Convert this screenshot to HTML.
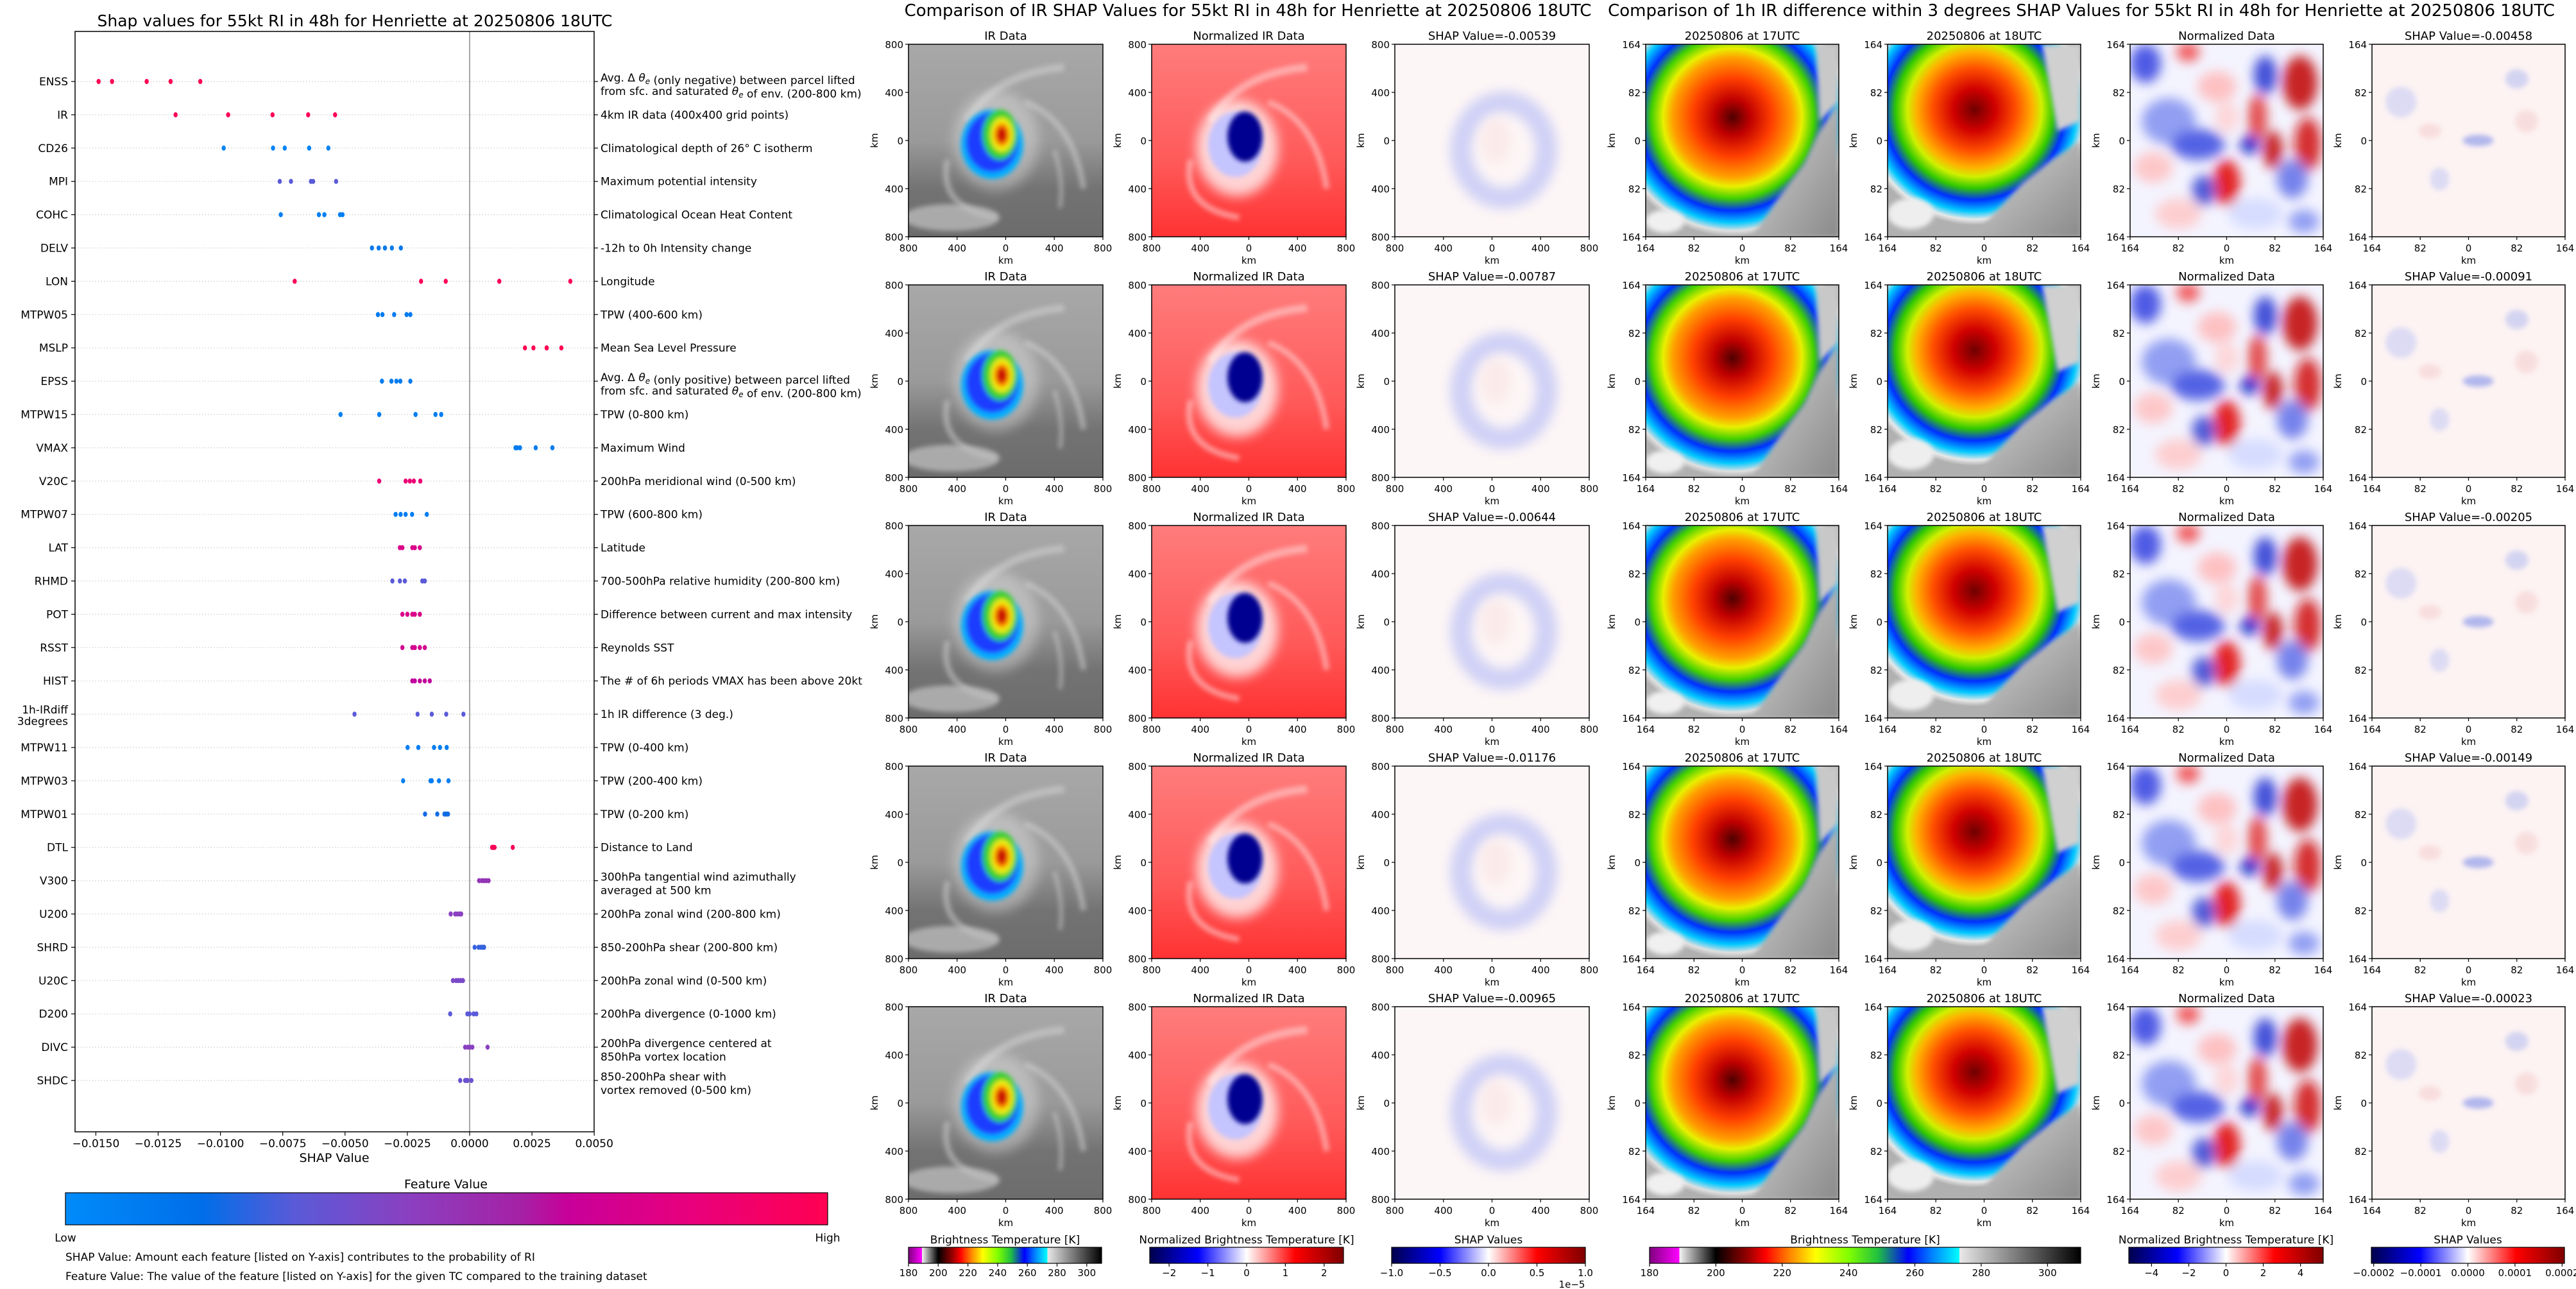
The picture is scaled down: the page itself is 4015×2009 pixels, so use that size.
<!DOCTYPE html>
<html><head><meta charset="utf-8">
<style>
html,body{margin:0;padding:0;background:#fff;}
svg{display:block;font-family:"DejaVu Sans","Liberation Sans",sans-serif;}
</style></head>
<body>
<svg id="root" xmlns="http://www.w3.org/2000/svg" width="4015" height="2009" viewBox="0 0 4015 2009">
<defs>
  <linearGradient id="shapcm" x1="0" x2="1" y1="0" y2="0">
    <stop offset="0" stop-color="#008bfa"/><stop offset="0.18" stop-color="#006ee8"/>
    <stop offset="0.3" stop-color="#5a5ad8"/><stop offset="0.45" stop-color="#8a40c0"/>
    <stop offset="0.6" stop-color="#a620a4"/><stop offset="0.66" stop-color="#c8009a"/>
    <stop offset="0.82" stop-color="#e8007c"/><stop offset="1" stop-color="#ff0052"/>
  </linearGradient>
  <linearGradient id="btcm" x1="0" x2="1" y1="0" y2="0">
    <stop offset="0" stop-color="#800080"/><stop offset="0.069" stop-color="#ff00ff"/>
    <stop offset="0.0691" stop-color="#f4f4f4"/><stop offset="0.154" stop-color="#000000"/>
    <stop offset="0.231" stop-color="#a00000"/><stop offset="0.269" stop-color="#ff0000"/>
    <stop offset="0.323" stop-color="#ff8000"/><stop offset="0.385" stop-color="#ffff00"/>
    <stop offset="0.462" stop-color="#80ff00"/><stop offset="0.53" stop-color="#20c040"/>
    <stop offset="0.6" stop-color="#0000ff"/><stop offset="0.654" stop-color="#0080ff"/>
    <stop offset="0.719" stop-color="#00ffff"/><stop offset="0.7191" stop-color="#e8e8e8"/>
    <stop offset="1" stop-color="#000000"/>
  </linearGradient>
  <linearGradient id="seis" x1="0" x2="1" y1="0" y2="0">
    <stop offset="0" stop-color="#00004c"/><stop offset="0.25" stop-color="#0000ff"/>
    <stop offset="0.5" stop-color="#ffffff"/><stop offset="0.75" stop-color="#ff0000"/>
    <stop offset="1" stop-color="#7f0000"/>
  </linearGradient>
  <linearGradient id="irbg" x1="0" x2="0" y1="0" y2="1">
    <stop offset="0" stop-color="#a8a8a8"/><stop offset="0.5" stop-color="#9a9a9a"/>
    <stop offset="0.75" stop-color="#737373"/><stop offset="1" stop-color="#6c6c6c"/>
  </linearGradient>
  <linearGradient id="nbg" x1="0" x2="0" y1="0" y2="1">
    <stop offset="0" stop-color="#ff7c7c"/><stop offset="0.6" stop-color="#ff5a5a"/>
    <stop offset="1" stop-color="#ff3232"/>
  </linearGradient>
  <radialGradient id="storm17" cx="0.45" cy="0.38" r="0.62">
    <stop offset="0" stop-color="#500000"/><stop offset="0.15" stop-color="#c00000"/>
    <stop offset="0.33" stop-color="#ff4000"/><stop offset="0.5" stop-color="#ffa000"/>
    <stop offset="0.58" stop-color="#e8f000"/><stop offset="0.68" stop-color="#40d000"/>
    <stop offset="0.78" stop-color="#0030ff"/><stop offset="0.88" stop-color="#00c8ff"/>
    <stop offset="0.95" stop-color="#e0e0e0"/><stop offset="1" stop-color="#b0b0b0"/>
  </radialGradient>
  <radialGradient id="storm18" cx="0.45" cy="0.34" r="0.6">
    <stop offset="0" stop-color="#700000"/><stop offset="0.18" stop-color="#d00000"/>
    <stop offset="0.36" stop-color="#ff5000"/><stop offset="0.5" stop-color="#ffb000"/>
    <stop offset="0.58" stop-color="#d0f000"/><stop offset="0.68" stop-color="#30c800"/>
    <stop offset="0.78" stop-color="#0030ff"/><stop offset="0.88" stop-color="#00c8ff"/>
    <stop offset="0.95" stop-color="#e8e8e8"/><stop offset="1" stop-color="#b0b0b0"/>
  </radialGradient>
  <linearGradient id="graybr" x1="0" x2="1" y1="0" y2="1">
    <stop offset="0" stop-color="#d8d8d8"/><stop offset="1" stop-color="#8a8a8a"/>
  </linearGradient>
  <filter id="b1" x="-20%" y="-20%" width="140%" height="140%"><feGaussianBlur stdDeviation="1.2"/></filter>
  <filter id="b2" x="-30%" y="-30%" width="160%" height="160%"><feGaussianBlur stdDeviation="3"/></filter>

  <symbol id="sym-ir" viewBox="0 0 100 100" preserveAspectRatio="none">
    <rect width="100" height="100" fill="url(#irbg)"/>
    <g filter="url(#b1)" fill="none" stroke="#d6d6d6" opacity="0.5">
      <path d="M30 40 Q45 15 80 12" stroke-width="4"/>
      <path d="M60 30 Q85 40 90 75" stroke-width="3"/>
      <path d="M20 60 Q15 85 45 90" stroke-width="3"/>
      <path d="M75 55 Q80 70 78 85" stroke-width="2"/>
    </g>
    <ellipse cx="22" cy="90" rx="25" ry="7" fill="#c4c4c4" opacity="0.7" filter="url(#b1)"/>
    <ellipse cx="45" cy="50" rx="22" ry="26" fill="#e8e8e8" opacity="0.4" filter="url(#b2)"/>
    <g filter="url(#b1)">
    <ellipse cx="43" cy="52" rx="16" ry="18" fill="#00b0ff"/>
    <ellipse cx="43" cy="51" rx="13.5" ry="15.5" fill="#1e3cff"/>
    <ellipse cx="47" cy="47" rx="9" ry="13" fill="#30d030"/>
    <ellipse cx="48" cy="47" rx="6" ry="9" fill="#eeee10"/>
    <ellipse cx="48" cy="47" rx="4" ry="6" fill="#ff7a00"/>
    <ellipse cx="48" cy="47" rx="2.5" ry="4" fill="#c80000"/>
    </g>
  </symbol>
  <symbol id="sym-norm" viewBox="0 0 100 100" preserveAspectRatio="none">
    <rect width="100" height="100" fill="url(#nbg)"/>
    <g filter="url(#b1)" fill="none" stroke="#ffd0d0" opacity="0.6">
      <path d="M30 40 Q45 15 80 12" stroke-width="4"/>
      <path d="M60 30 Q85 40 90 75" stroke-width="3"/>
      <path d="M20 60 Q15 85 45 90" stroke-width="3"/>
    </g>
    <ellipse cx="44" cy="54" rx="21" ry="25" fill="#ffffff" opacity="0.75" filter="url(#b2)"/>
    <ellipse cx="43" cy="52" rx="14" ry="17" fill="#c4c4ff" filter="url(#b1)"/>
    <ellipse cx="48" cy="48" rx="9" ry="13" fill="#000090" filter="url(#b1)"/>
  </symbol>
  <symbol id="sym-shap" viewBox="0 0 100 100" preserveAspectRatio="none">
    <rect width="100" height="100" fill="#fdf6f6"/>
    <ellipse cx="56" cy="55" rx="22" ry="25" fill="none" stroke="#cfd0f6" stroke-width="11" filter="url(#b2)"/>
    <ellipse cx="52" cy="50" rx="8" ry="12" fill="#fbeaea" filter="url(#b2)"/>
  </symbol>
  <symbol id="sym-r17" viewBox="0 0 100 100" preserveAspectRatio="none">
    <rect width="100" height="100" fill="url(#storm17)"/>
    <polygon points="55,100 100,100 100,30 90,45 82,62 70,78" fill="url(#graybr)" filter="url(#b1)"/>
    <polygon points="88,0 100,0 100,30 90,40" fill="#c8c8c8" filter="url(#b1)"/>
    <ellipse cx="10" cy="92" rx="10" ry="6" fill="#f0f0f0" filter="url(#b1)"/>
  </symbol>
  <symbol id="sym-r18" viewBox="0 0 100 100" preserveAspectRatio="none">
    <rect width="100" height="100" fill="url(#storm18)"/>
    <polygon points="45,100 100,100 100,50 85,60 70,72 55,88" fill="url(#graybr)" filter="url(#b1)"/>
    <polygon points="80,0 100,0 100,40 88,45" fill="#d0d0d0" filter="url(#b1)"/>
    <ellipse cx="12" cy="88" rx="12" ry="8" fill="#eeeeee" filter="url(#b1)"/>
  </symbol>
  <symbol id="sym-rn" viewBox="0 0 100 100" preserveAspectRatio="none">
    <rect width="100" height="100" fill="#f4f4ff"/>
    <g filter="url(#b2)" opacity="0.85">
      <ellipse cx="8" cy="10" rx="8" ry="10" fill="#3040e0"/>
      <ellipse cx="30" cy="4" rx="6" ry="5" fill="#f04040"/>
      <ellipse cx="88" cy="20" rx="9" ry="14" fill="#c00000"/>
      <ellipse cx="70" cy="16" rx="6" ry="10" fill="#2030d0"/>
      <ellipse cx="45" cy="22" rx="10" ry="8" fill="#ffb8b8"/>
      <ellipse cx="20" cy="40" rx="14" ry="12" fill="#8090f0"/>
      <ellipse cx="66" cy="38" rx="5" ry="12" fill="#e03030"/>
      <ellipse cx="92" cy="52" rx="7" ry="14" fill="#d01010"/>
      <ellipse cx="35" cy="52" rx="14" ry="8" fill="#3848e0"/>
      <ellipse cx="62" cy="52" rx="5" ry="5" fill="#0010c0"/>
      <ellipse cx="74" cy="55" rx="5" ry="10" fill="#c00000"/>
      <ellipse cx="50" cy="72" rx="7" ry="12" fill="#e00000"/>
      <ellipse cx="38" cy="76" rx="6" ry="8" fill="#3040d0"/>
      <ellipse cx="84" cy="70" rx="8" ry="10" fill="#6070e8"/>
      <ellipse cx="12" cy="64" rx="10" ry="8" fill="#ffc0c0"/>
      <ellipse cx="25" cy="88" rx="12" ry="8" fill="#ffc8c8"/>
      <ellipse cx="65" cy="88" rx="14" ry="8" fill="#d0d8ff"/>
      <ellipse cx="90" cy="92" rx="8" ry="6" fill="#8090f0"/>
      <ellipse cx="50" cy="38" rx="6" ry="8" fill="#ffd0d0"/>
    </g>
  </symbol>
  <symbol id="sym-rs" viewBox="0 0 100 100" preserveAspectRatio="none">
    <rect width="100" height="100" fill="#fdf3f3"/>
    <g filter="url(#b1)" opacity="0.6">
      <ellipse cx="15" cy="30" rx="8" ry="8" fill="#c8ccf4"/>
      <ellipse cx="75" cy="18" rx="6" ry="5" fill="#b8c0f0"/>
      <ellipse cx="55" cy="50" rx="8" ry="3" fill="#8090e8"/>
      <ellipse cx="35" cy="70" rx="5" ry="6" fill="#c8ccf4"/>
      <ellipse cx="80" cy="40" rx="6" ry="6" fill="#f6d0d0"/>
      <ellipse cx="30" cy="45" rx="6" ry="4" fill="#f6d0d0"/>
    </g>
  </symbol>
</defs>
<rect width="4015" height="2009" fill="#ffffff"/>
<g id="left"></g>
<g id="mid"></g>
<g id="right"></g>
</svg>
<script>
// ---------- SHAP summary chart data ----------
const features = ["ENSS","IR","CD26","MPI","COHC","DELV","LON","MTPW05","MSLP","EPSS","MTPW15","VMAX","V20C","MTPW07","LAT","RHMD","POT","RSST","HIST","1h-IRdiff\n3degrees","MTPW11","MTPW03","MTPW01","DTL","V300","U200","SHRD","U20C","D200","DIVC","SHDC"];
const descriptions = [
 "Avg. Δ θe (only negative) between parcel lifted\nfrom sfc. and saturated θe of env. (200-800 km)",
 "4km IR data (400x400 grid points)",
 "Climatological depth of 26° C isotherm",
 "Maximum potential intensity",
 "Climatological Ocean Heat Content",
 "-12h to 0h Intensity change",
 "Longitude",
 "TPW (400-600 km)",
 "Mean Sea Level Pressure",
 "Avg. Δ θe (only positive) between parcel lifted\nfrom sfc. and saturated θe of env. (200-800 km)",
 "TPW (0-800 km)",
 "Maximum Wind",
 "200hPa meridional wind (0-500 km)",
 "TPW (600-800 km)",
 "Latitude",
 "700-500hPa relative humidity (200-800 km)",
 "Difference between current and max intensity",
 "Reynolds SST",
 "The # of 6h periods VMAX has been above 20kt",
 "1h IR difference (3 deg.)",
 "TPW (0-400 km)",
 "TPW (200-400 km)",
 "TPW (0-200 km)",
 "Distance to Land",
 "300hPa tangential wind azimuthally\naveraged at 500 km",
 "200hPa zonal wind (200-800 km)",
 "850-200hPa shear (200-800 km)",
 "200hPa zonal wind (0-500 km)",
 "200hPa divergence (0-1000 km)",
 "200hPa divergence centered at\n850hPa vortex location",
 "850-200hPa shear with\nvortex removed (0-500 km)"];
const shapValues = [
 [-0.01489,-0.01435,-0.01296,-0.0120,-0.01081],
 [-0.0118,-0.00969,-0.00791,-0.00648,-0.0054],
 [-0.00987,-0.00789,-0.00742,-0.00644,-0.00567],
 [-0.00762,-0.00717,-0.00637,-0.00628,-0.00536],
 [-0.00758,-0.00605,-0.00583,-0.0052,-0.0051],
 [-0.00392,-0.00365,-0.0034,-0.00312,-0.00276],
 [-0.00702,-0.00195,-0.00096,0.00119,0.00404],
 [-0.00368,-0.0035,-0.00303,-0.00253,-0.00238],
 [0.00222,0.00256,0.00309,0.00309,0.00368],
 [-0.00352,-0.00314,-0.00294,-0.00278,-0.00238],
 [-0.00518,-0.00363,-0.00217,-0.00137,-0.00114],
 [0.00184,0.0019,0.00202,0.00265,0.00332],
 [-0.00363,-0.00257,-0.0024,-0.00224,-0.00198],
 [-0.00297,-0.00277,-0.00257,-0.00231,-0.00172],
 [-0.0028,-0.0027,-0.0023,-0.0022,-0.0020],
 [-0.0031,-0.0028,-0.0026,-0.0019,-0.0018],
 [-0.0027,-0.0025,-0.0023,-0.0022,-0.002],
 [-0.0027,-0.0023,-0.0022,-0.002,-0.0018],
 [-0.0023,-0.0022,-0.002,-0.0018,-0.0016],
 [-0.00462,-0.00209,-0.00152,-0.00094,-0.00025],
 [-0.00249,-0.00206,-0.00143,-0.00119,-0.00092],
 [-0.00267,-0.00157,-0.00152,-0.00123,-0.00085],
 [-0.00179,-0.0013,-0.00101,-0.00094,-0.00087],
 [0.0009,0.00094,0.00097,0.001,0.00173],
 [0.00038,0.00049,0.00058,0.00067,0.00076],
 [-0.00076,-0.00058,-0.00049,-0.0004,-0.00034],
 [0.0002,0.00036,0.00045,0.00052,0.00058],
 [-0.00067,-0.00054,-0.00045,-0.00036,-0.00027],
 [-0.00078,-0.00009,0,0.00016,0.00027],
 [-0.00018,-0.00007,0.00002,0.00011,0.00072],
 [-0.00038,-0.00018,-0.0001,-0.00009,0.00007]];
const featureValues = [1,0.98,0.05,0.3,0.08,0.12,0.98,0.1,1,0.1,0.08,0.1,0.85,0.08,0.75,0.3,0.75,0.72,0.65,0.3,0.08,0.08,0.2,0.98,0.5,0.45,0.25,0.4,0.3,0.45,0.35];
const xTicks = [-0.015,-0.0125,-0.01,-0.0075,-0.005,-0.0025,0,0.0025,0.005];
const xTickLabels = ["−0.0150","−0.0125","−0.0100","−0.0075","−0.0050","−0.0025","0.0000","0.0025","0.0050"];

// ---------- image panel data ----------
const midShap = ["-0.00539","-0.00787","-0.00644","-0.01176","-0.00965"];
const rightShap = ["-0.00458","-0.00091","-0.00205","-0.00149","-0.00023"];
const midTicks = ["800","400","0","400","800"];
const rightTicks = ["164","82","0","82","164"];
const cbBT = [180,200,220,240,260,280,300];
const cbNormMid = [-2,-1,0,1,2];
const cbShapMid = [-1.0,-0.5,0.0,0.5,1.0];
const cbNormRight = [-4,-2,0,2,4];
const cbShapRight = [-0.0002,-0.0001,0,0.0001,0.0002];

const NS = "http://www.w3.org/2000/svg";
function mk(tag, attrs, parent, text){
  const e = document.createElementNS(NS, tag);
  for (const k in attrs) e.setAttribute(k, attrs[k]);
  if (text !== undefined) e.textContent = text;
  parent.appendChild(e);
  return e;
}
const cmapStops = [[0,[0,139,250]],[0.18,[0,110,232]],[0.3,[90,90,216]],[0.45,[138,64,192]],[0.6,[166,32,164]],[0.66,[200,0,154]],[0.82,[232,0,124]],[1,[255,0,82]]];
function cmap(v){
  for (let i=1;i<cmapStops.length;i++){
    if (v<=cmapStops[i][0]){
      const a=cmapStops[i-1], b=cmapStops[i]; const t=(v-a[0])/(b[0]-a[0]);
      const c=a[1].map((x,j)=>Math.round(x+(b[1][j]-x)*t));
      return "rgb("+c.join(",")+")";
    }
  }
  return "rgb(255,0,82)";
}

// ---------- left chart ----------
const L = document.getElementById("left");
const AX = {left:117, right:926, top:49, bottom:1764};
function xs(v){ return 732 + v/0.0025*97.1; }
function ys(i){ return 127 + i*(1684-127)/30; }

let t = mk("text",{x:553,y:41,"font-size":25,"text-anchor":"middle"},L,"Shap values for 55kt RI in 48h for Henriette at 20250806 18UTC");



features.forEach((f,i)=>{
  const y = ys(i);
  const g = mk("line",{x1:AX.left,x2:AX.right,y1:y,y2:y,stroke:"#cccccc","stroke-width":1.2,"stroke-dasharray":"1.5,3"},L);
  
  
  mk("line",{x1:AX.left-6,x2:AX.left,y1:y,y2:y,stroke:"#000","stroke-width":1.2},L);
  mk("line",{x1:AX.right,x2:AX.right+6,y1:y,y2:y,stroke:"#000","stroke-width":1.2},L);
  const lines = f.split("\n");
  const lab = mk("text",{x:106,"font-size":17,"text-anchor":"end"},L);
  
  
  lines.forEach((ln,k)=>{ mk("tspan",{x:106,y: lines.length>1 ? y-1+k*18 : y+6},lab,ln); });
  const dl = descriptions[i].split("\n");
  const d = mk("text",{x:936,"font-size":17},L);
  
  
  dl.forEach((ln,k)=>{
    const ty = dl.length>1 ? y+(k===0?0:21) : y+6;
    const ts = mk("tspan",{x:936,y:ty},d);
    const parts = ln.split("θe");
    parts.forEach((p,pi)=>{
      const s = document.createElementNS(NS,"tspan"); s.textContent=p; ts.appendChild(s);
      if (pi<parts.length-1){
        const th=document.createElementNS(NS,"tspan"); th.setAttribute("font-style","italic"); th.textContent="θ"; ts.appendChild(th);
        const sub=document.createElementNS(NS,"tspan"); sub.setAttribute("font-size","12"); sub.setAttribute("dy","4"); sub.setAttribute("font-style","italic"); sub.textContent="e"; ts.appendChild(sub);
        const back=document.createElementNS(NS,"tspan"); back.setAttribute("dy","-4"); back.textContent=""; ts.appendChild(back);
      }
    });
  });
});
let z = mk("line",{x1:xs(0),x2:xs(0),y1:AX.top,y2:AX.bottom,stroke:"#888888","stroke-width":1.5},L);


shapValues.forEach((vals,i)=>{
  vals.forEach(v=>{
    const c = mk("ellipse",{cx:xs(v),cy:ys(i),rx:3.2,ry:4,fill:cmap(featureValues[i])},L);
    
    
  });
});
let fr = mk("rect",{x:AX.left,y:AX.top,width:AX.right-AX.left,height:AX.bottom-AX.top,fill:"none",stroke:"#000","stroke-width":1.5},L);


xTicks.forEach((v,i)=>{
  mk("line",{x1:xs(v),x2:xs(v),y1:AX.bottom,y2:AX.bottom+6,stroke:"#000","stroke-width":1.2},L);
  const tl = mk("text",{x:xs(v),y:1788,"font-size":17,"text-anchor":"middle"},L,xTickLabels[i]);
  
  
});
t = mk("text",{x:521,y:1811,"font-size":19,"text-anchor":"middle"},L,"SHAP Value");


t = mk("text",{x:695,y:1852,"font-size":19,"text-anchor":"middle"},L,"Feature Value");


let cb = mk("rect",{x:102,y:1859,width:1188,height:50,fill:"url(#shapcm)",stroke:"#000","stroke-width":1.2},L);


t = mk("text",{x:102,y:1935,"font-size":17,"text-anchor":"middle"},L,"Low");


t = mk("text",{x:1290,y:1935,"font-size":17,"text-anchor":"middle"},L,"High");


t = mk("text",{x:102,y:1965,"font-size":17},L,"SHAP Value: Amount each feature [listed on Y-axis] contributes to the probability of RI");


t = mk("text",{x:102,y:1995,"font-size":17},L,"Feature Value: The value of the feature [listed on Y-axis] for the given TC compared to the training dataset");



// ---------- image panels ----------
function panel(parent, x, y, w, h, sym, title, ticks){
  const g = mk("g",{},parent);
  
  
  mk("use",{href:"#"+sym,x:x,y:y,width:w,height:h},g);
  mk("rect",{x:x,y:y,width:w,height:h,fill:"none",stroke:"#000","stroke-width":1.5},g);
  const tt = mk("text",{x:x+w/2,y:y-7,"font-size":18,"text-anchor":"middle"},g,title);
  
  
  ticks.forEach((lab,k)=>{
    const ty = y + h*k/4, tx = x + w*k/4;
    mk("line",{x1:x-5,x2:x,y1:ty,y2:ty,stroke:"#000","stroke-width":1.2},g);
    mk("text",{x:x-8,y:ty+6,"font-size":15,"text-anchor":"end"},g,lab);
    mk("line",{x1:tx,x2:tx,y1:y+h,y2:y+h+5,stroke:"#000","stroke-width":1.2},g);
    mk("text",{x:tx,y:y+h+23,"font-size":15,"text-anchor":"middle"},g,lab);
  });
  mk("text",{x:x+w/2,y:y+h+42,"font-size":15,"text-anchor":"middle"},g,"km");
  mk("text",{x:0,y:0,"font-size":15,"text-anchor":"middle",transform:"translate("+(x-48)+","+(y+h/2)+") rotate(-90)"},g,"km");
}
function colorbar(parent, x, y, w, grad, title, ticks, labels, vmin, vmax){
  const g = mk("g",{},parent);
  
  
  mk("text",{x:x+w/2,y:y-6,"font-size":17,"text-anchor":"middle"},g,title);
  mk("rect",{x:x,y:y,width:w,height:25,fill:"url(#"+grad+")",stroke:"#000","stroke-width":1.2},g);
  ticks.forEach((v,k)=>{
    const tx = x + (v-vmin)/(vmax-vmin)*w;
    mk("line",{x1:tx,x2:tx,y1:y+25,y2:y+30,stroke:"#000","stroke-width":1.2},g);
    mk("text",{x:tx,y:y+45,"font-size":15,"text-anchor":"middle"},g,labels[k]);
  });
}
const M = document.getElementById("mid");
t = mk("text",{x:1945,y:25,"font-size":26,"text-anchor":"middle"},M,"Comparison of IR SHAP Values for 55kt RI in 48h for Henriette at 20250806 18UTC");


const midCols=[1416,1795,2174];
for (let r=0;r<5;r++){
  const y=69+375*r;
  panel(M,midCols[0],y,303,300,"sym-ir","IR Data",midTicks);
  panel(M,midCols[1],y,303,300,"sym-norm","Normalized IR Data",midTicks);
  panel(M,midCols[2],y,303,300,"sym-shap","SHAP Value="+midShap[r],midTicks);
}
const R = document.getElementById("right");
t = mk("text",{x:3244,y:25,"font-size":26,"text-anchor":"middle"},R,"Comparison of 1h IR difference within 3 degrees SHAP Values for 55kt RI in 48h for Henriette at 20250806 18UTC");


const rCols=[2565,2942,3320,3697];
for (let r=0;r<5;r++){
  const y=69+375*r;
  panel(R,rCols[0],y,301,300,"sym-r17","20250806 at 17UTC",rightTicks);
  panel(R,rCols[1],y,301,300,"sym-r18","20250806 at 18UTC",rightTicks);
  panel(R,rCols[2],y,301,300,"sym-rn","Normalized Data",rightTicks);
  panel(R,rCols[3],y,301,300,"sym-rs","SHAP Value="+rightShap[r],rightTicks);
}
colorbar(M,1416,1944,301,"btcm","Brightness Temperature [K]",cbBT,cbBT.map(String),180,310);
colorbar(M,1792,1944,302,"seis","Normalized Brightness Temperature [K]",cbNormMid,cbNormMid.map(v=>v<0?"−"+(-v):String(v)),-2.5,2.5);
colorbar(M,2169,1944,302,"seis","SHAP Values",cbShapMid,cbShapMid.map(v=>(v<0?"−":"")+Math.abs(v).toFixed(1)),-1,1);
t = mk("text",{x:2450,y:2007,"font-size":15,"text-anchor":"middle"},M,"1e−5");


colorbar(R,2571,1944,672,"btcm","Brightness Temperature [K]",cbBT,cbBT.map(String),180,310);
colorbar(R,3318,1944,303,"seis","Normalized Brightness Temperature [K]",cbNormRight,cbNormRight.map(v=>v<0?"−"+(-v):String(v)),-5.22,5.22);
colorbar(R,3696,1944,301,"seis","SHAP Values",cbShapRight,cbShapRight.map(v=>(v<0?"−":"")+Math.abs(v).toFixed(4)),-0.000205,0.000205);
</script>
</body></html>
